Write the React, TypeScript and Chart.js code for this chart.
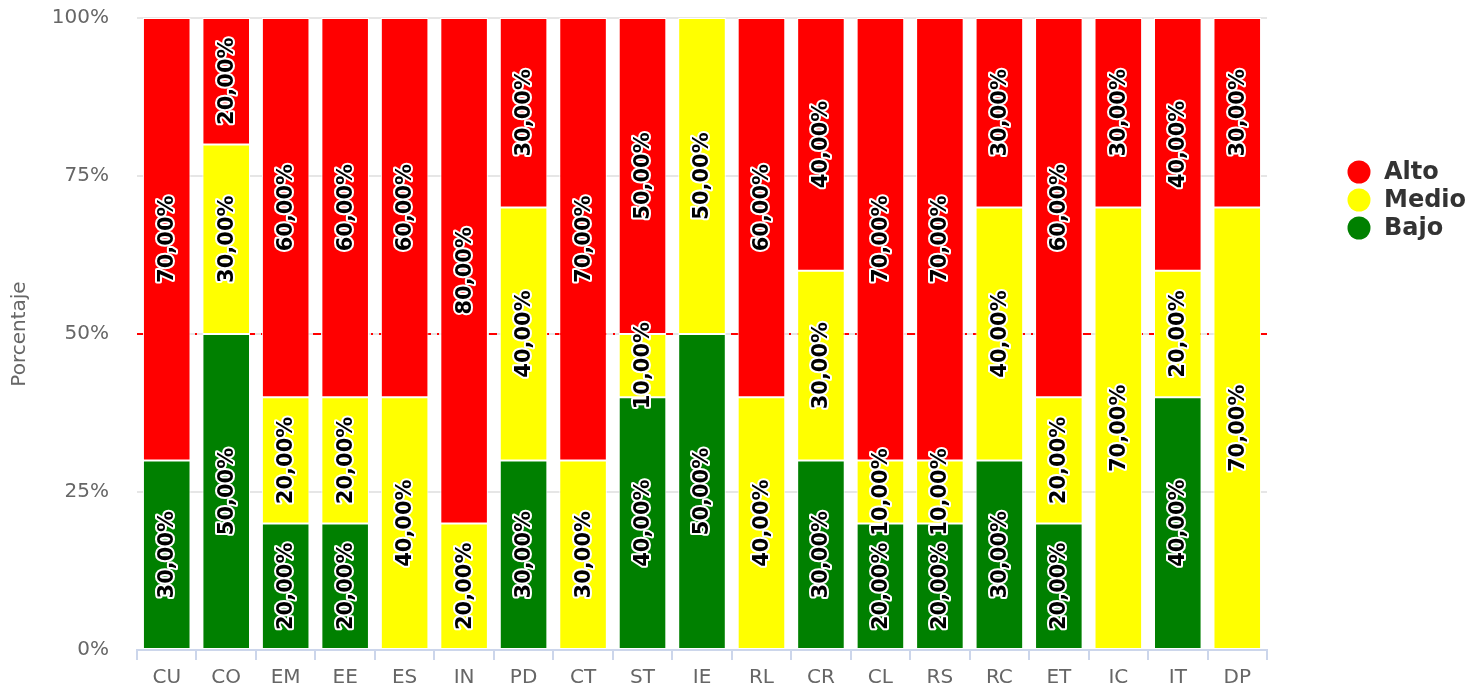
import React, { useEffect, useRef } from "react";
import { Chart, registerables } from "chart.js";

Chart.register(...registerables);

const categories = ["CU", "CO", "EM", "EE", "ES", "IN", "PD", "CT", "ST", "IE", "RL", "CR", "CL", "RS", "RC", "ET", "IC", "IT", "DP"];
const bajo = [30, 50, 20, 20, 0, 0, 30, 0, 40, 50, 0, 30, 20, 20, 30, 20, 0, 40, 0];
const medio = [0, 30, 20, 20, 40, 20, 40, 30, 10, 50, 40, 30, 10, 10, 40, 20, 70, 20, 70];
const alto = [70, 20, 60, 60, 60, 80, 30, 70, 50, 0, 60, 40, 70, 70, 30, 60, 30, 40, 30];
const yTicks = [0, 25, 50, 75, 100];
const referenceLine = 50;

const FONT = "'DejaVu Sans', sans-serif";

const refLinePlugin = {
  id: "refLine",
  beforeDatasetsDraw(chart: any) {
    const { ctx, chartArea, scales } = chart;
    const y = scales.y.getPixelForValue(referenceLine);
    ctx.save();
    ctx.strokeStyle = "#ff0000";
    ctx.lineWidth = 2;
    ctx.setLineDash([8, 6, 2, 6]);
    ctx.beginPath();
    ctx.moveTo(chartArea.left, y);
    ctx.lineTo(chartArea.right, y);
    ctx.stroke();
    ctx.restore();
  },
};

const labelPlugin = {
  id: "barLabels",
  afterDatasetsDraw(chart: any) {
    const { ctx } = chart;
    ctx.save();
    ctx.font = `bold 21px ${FONT}`;
    ctx.textAlign = "center";
    ctx.textBaseline = "middle";
    ctx.lineJoin = "round";
    chart.data.datasets.forEach((ds: any, di: number) => {
      const meta = chart.getDatasetMeta(di);
      meta.data.forEach((el: any, i: number) => {
        const v = ds.data[i];
        if (!v) return;
        const txt = v.toFixed(2).replace(".", ",") + "%";
        const cx = el.x;
        const cy = (el.y + el.base) / 2;
        ctx.save();
        ctx.translate(cx, cy);
        ctx.rotate(-Math.PI / 2);
        ctx.strokeStyle = "#ffffff";
        ctx.lineWidth = 4;
        ctx.strokeText(txt, 0, 1);
        ctx.fillStyle = "#000000";
        ctx.fillText(txt, 0, 1);
        ctx.restore();
      });
    });
    ctx.restore();
  },
};

const legendPlugin = {
  id: "customLegend",
  afterDraw(chart: any) {
    const { ctx } = chart;
    const items = [...chart.data.datasets].reverse();
    ctx.save();
    ctx.font = `bold 24px ${FONT}`;
    ctx.textAlign = "left";
    ctx.textBaseline = "middle";
    const startY = chart.chartArea.top + 154;
    items.forEach((ds: any, i: number) => {
      const y = startY + i * 28;
      ctx.beginPath();
      ctx.arc(chart.chartArea.right + 92, y, 11.5, 0, Math.PI * 2);
      ctx.fillStyle = ds.backgroundColor;
      ctx.fill();
      ctx.fillStyle = "#333333";
      ctx.fillText(ds.label, chart.chartArea.right + 117, y + 1);
    });
    ctx.restore();
  },
};

export default function App() {
  const ref = useRef<HTMLCanvasElement>(null);
  useEffect(() => {
    document.body.style.margin = "0";
    const mk = (label: string, data: number[], color: string) => ({
      label,
      data,
      backgroundColor: color,
      borderColor: "#ffffff",
      borderWidth: 1,
      borderSkipped: false,
      barPercentage: 0.8,
      categoryPercentage: 1,
    });
    const chart = new Chart(ref.current as HTMLCanvasElement, {
      type: "bar",
      data: {
        labels: categories,
        datasets: [
          mk("Bajo", bajo, "#008000"),
          mk("Medio", medio, "#ffff00"),
          mk("Alto", alto, "#ff0000"),
        ],
      },
      options: {
        animation: false,
        responsive: false,
        maintainAspectRatio: false,
        layout: { padding: { top: 0, right: 213, bottom: 0, left: 0 } },
        plugins: {
          tooltip: { enabled: false },
          legend: { display: false },
        },
        scales: {
          x: {
            stacked: true,
            grid: {
              offset: true,
              drawOnChartArea: false,
              drawTicks: true,
              tickLength: 10,
              color: "#ccd6eb",
              lineWidth: 2,
            },
            border: { color: "#ccd6eb", width: 2 },
            ticks: { color: "#666666", font: { family: FONT, size: 20 }, padding: 6, maxRotation: 0 },
            afterFit(scale: any) {
              scale.height = 41;
            },
          },
          y: {
            stacked: true,
            min: 0,
            max: 100,
            afterBuildTicks(scale: any) {
              scale.ticks = yTicks.map((v) => ({ value: v }));
            },
            grid: { color: "#e6e6e6", lineWidth: 2, drawTicks: false },
            border: { display: false },
            ticks: {
              color: "#666666",
              font: { family: FONT, size: 20 },
              padding: 28,
              callback: (v: any) => v + "%",
            },
            title: {
              display: true,
              text: "Porcentaje",
              color: "#666666",
              font: { family: FONT, size: 20 },
              padding: { top: 8, bottom: 0 },
            },
            afterFit(scale: any) {
              scale.width = 137;
              scale.paddingTop = 18;
              scale.paddingBottom = 0;
            },
          },
        },
      },
      plugins: [refLinePlugin, labelPlugin, legendPlugin],
    });
    return () => chart.destroy();
  }, []);
  return (
    <div style={{ width: 1480, height: 691 }}>
      <canvas ref={ref} width={1480} height={691} style={{ display: "block" }} />
    </div>
  );
}
